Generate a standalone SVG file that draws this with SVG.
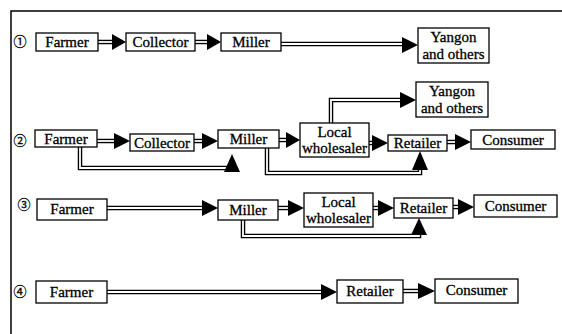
<svg xmlns="http://www.w3.org/2000/svg" width="562" height="334" viewBox="0 0 562 334">
<style>
.box{fill:#fff;stroke:#000;stroke-width:1.3}
.t{font-family:"Liberation Serif","Times New Roman",serif;font-size:15px;fill:#000;text-anchor:middle;stroke:#000;stroke-width:0.3}
.num{font-family:"Noto Sans CJK JP","DejaVu Sans",sans-serif;font-size:13px;fill:#000;text-anchor:middle;stroke:#000;stroke-width:0.3}
.o{fill:none;stroke:#000;stroke-width:4.5;stroke-linejoin:miter}
.i{fill:none;stroke:#fff;stroke-width:1.8;stroke-linejoin:miter}
.h{fill:#000}
.frame{fill:none;stroke:#000;stroke-width:1.5}
</style>
<defs>
<path id="c1" d="M98 42H114"/>
<path id="c2" d="M195 42H209"/>
<path id="c3" d="M281 44H404"/>
<path id="c4" d="M97 141H117"/>
<path id="c5" d="M194 141H204"/>
<path id="c6" d="M279 140H288"/>
<path id="c7" d="M369 143H374"/>
<path id="c8" d="M447 142H457"/>
<path id="c9" d="M331 123V100H402"/>
<path id="c10" d="M80 147V168H232V166"/>
<path id="c11" d="M267 148V173H420V168"/>
<path id="c12" d="M107 208H204"/>
<path id="c13" d="M278 208H290"/>
<path id="c14" d="M373 208H380"/>
<path id="c15" d="M453 207H460"/>
<path id="c16" d="M243 220V236H419V232"/>
<path id="c17" d="M107 292H323"/>
<path id="c18" d="M403 291H420"/>
</defs>
<path class="frame" d="M11 334V11H562"/>
<g id="connectors">
<use href="#c1" class="o"/><use href="#c1" class="i"/>
<use href="#c2" class="o"/><use href="#c2" class="i"/>
<use href="#c3" class="o"/><use href="#c3" class="i"/>
<use href="#c4" class="o"/><use href="#c4" class="i"/>
<use href="#c5" class="o"/><use href="#c5" class="i"/>
<use href="#c6" class="o"/><use href="#c6" class="i"/>
<use href="#c7" class="o"/><use href="#c7" class="i"/>
<use href="#c8" class="o"/><use href="#c8" class="i"/>
<use href="#c9" class="o"/><use href="#c9" class="i"/>
<use href="#c10" class="o"/><use href="#c10" class="i"/>
<use href="#c11" class="o"/><use href="#c11" class="i"/>
<use href="#c12" class="o"/><use href="#c12" class="i"/>
<use href="#c13" class="o"/><use href="#c13" class="i"/>
<use href="#c14" class="o"/><use href="#c14" class="i"/>
<use href="#c15" class="o"/><use href="#c15" class="i"/>
<use href="#c16" class="o"/><use href="#c16" class="i"/>
<use href="#c17" class="o"/><use href="#c17" class="i"/>
<use href="#c18" class="o"/><use href="#c18" class="i"/>
<polygon class="h" points="112,34 126,42 112,50"/>
<polygon class="h" points="207,34 221,42 207,50"/>
<polygon class="h" points="402,37 418,45 402,53"/>
<polygon class="h" points="114,133 130,141 114,149"/>
<polygon class="h" points="202,133 218,141 202,149"/>
<polygon class="h" points="286,132 300,140 286,148"/>
<polygon class="h" points="372,135 388,143 372,151"/>
<polygon class="h" points="455,134 471,142 455,150"/>
<polygon class="h" points="400,92 416,100 400,108"/>
<polygon class="h" points="224,172 232,154 240,172"/>
<polygon class="h" points="412,170 420,151 428,170"/>
<polygon class="h" points="202,200 218,208 202,216"/>
<polygon class="h" points="288,200 304,208 288,216"/>
<polygon class="h" points="378,200 394,208 378,216"/>
<polygon class="h" points="458,199 474,207 458,215"/>
<polygon class="h" points="411,235 419,218 427,235"/>
<polygon class="h" points="321,284 337,292 321,300"/>
<polygon class="h" points="418,283 435,291 418,299"/>
</g>
<g id="labels">
<text class="num" x="20" y="46">①</text>
<text class="num" x="20" y="145">②</text>
<text class="num" x="24" y="209">③</text>
<text class="num" x="20" y="296">④</text>
</g>
<g id="r1-farmer"><rect class="box" x="36" y="33" width="62" height="18"/><text class="t" x="67" y="47">Farmer</text></g>
<g id="r1-collector"><rect class="box" x="126" y="33" width="69" height="18"/><text class="t" x="160.5" y="47">Collector</text></g>
<g id="r1-miller"><rect class="box" x="221" y="33" width="60" height="18"/><text class="t" x="251" y="47">Miller</text></g>
<g id="r1-yangon"><rect class="box" x="418" y="28" width="71" height="35"/><text class="t" x="453.5" y="42">Yangon</text><text class="t" x="453.5" y="59">and others</text></g>
<g id="r2-farmer"><rect class="box" x="35" y="130" width="62" height="17"/><text class="t" x="66" y="144">Farmer</text></g>
<g id="r2-collector"><rect class="box" x="130" y="134" width="64" height="17"/><text class="t" x="162" y="148">Collector</text></g>
<g id="r2-miller"><rect class="box" x="218" y="130" width="61" height="18"/><text class="t" x="248.5" y="144">Miller</text></g>
<g id="r2-wholesaler"><rect class="box" x="300" y="123" width="69" height="34"/><text class="t" x="334.5" y="137">Local</text><text class="t" x="334.5" y="153">wholesaler</text></g>
<g id="r2-yangon"><rect class="box" x="416" y="82" width="72" height="35"/><text class="t" x="452" y="96">Yangon</text><text class="t" x="452" y="113">and others</text></g>
<g id="r2-retailer"><rect class="box" x="388" y="135" width="59" height="16"/><text class="t" x="417.5" y="148">Retailer</text></g>
<g id="r2-consumer"><rect class="box" x="471" y="130" width="84" height="19"/><text class="t" x="513" y="145">Consumer</text></g>
<g id="r3-farmer"><rect class="box" x="37" y="199" width="70" height="21"/><text class="t" x="72" y="214">Farmer</text></g>
<g id="r3-miller"><rect class="box" x="218" y="200" width="60" height="20"/><text class="t" x="248" y="215">Miller</text></g>
<g id="r3-wholesaler"><rect class="box" x="304" y="193" width="69" height="34"/><text class="t" x="338.5" y="207">Local</text><text class="t" x="338.5" y="223">wholesaler</text></g>
<g id="r3-retailer"><rect class="box" x="394" y="198" width="59" height="20"/><text class="t" x="423.5" y="213">Retailer</text></g>
<g id="r3-consumer"><rect class="box" x="474" y="195" width="83" height="22"/><text class="t" x="515.5" y="211">Consumer</text></g>
<g id="r4-farmer"><rect class="box" x="36" y="281" width="71" height="22"/><text class="t" x="71.5" y="297">Farmer</text></g>
<g id="r4-retailer"><rect class="box" x="337" y="280" width="66" height="23"/><text class="t" x="370" y="296">Retailer</text></g>
<g id="r4-consumer"><rect class="box" x="435" y="279" width="83" height="24"/><text class="t" x="476.5" y="295">Consumer</text></g>
</svg>
